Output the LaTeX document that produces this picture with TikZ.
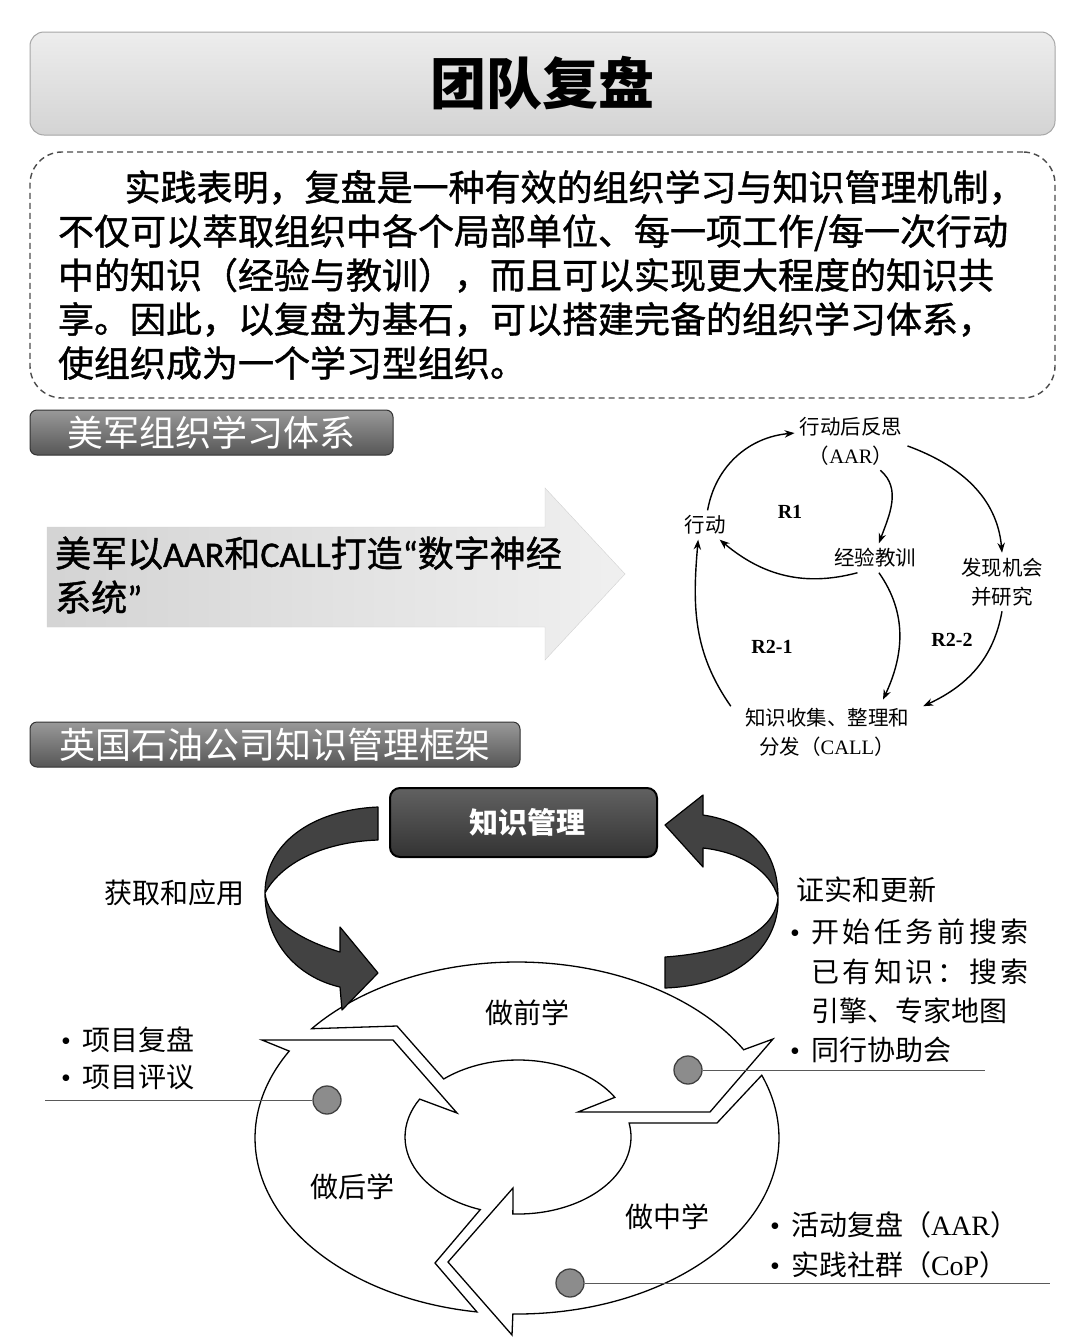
\documentclass[tikz,border=0pt]{standalone}
\usepackage{fontspec}
\setmainfont{Noto Sans CJK SC}
\newfontfamily\cjkheavy{Noto Sans CJK SC}[FakeBold=1.2]
\newfontfamily\cjkwide{Noto Sans CJK SC}[LetterSpace=13]
\newfontfamily\latinsans{Carlito}[FakeBold=1.2]
\newfontfamily\latinserif{Liberation Serif}
\usetikzlibrary{arrows.meta,positioning,calc}
\newcommand{\bul}{{\latinserif •}\hspace{11pt}}
\newcommand{\bulskip}{\phantom{\bul}}
\tikzset{
  titlebox/.style={
    rounded corners=14pt,
    draw=black!35,
    line width=1pt,
    top color=black!7,
    bottom color=black!17,
    minimum width=1025pt,
    minimum height=103pt,
    font=\fontsize{56}{60}\selectfont\bfseries
  },
  notebox/.style={
    rounded corners=32pt,
    draw=black!70,
    line width=1.4pt,
    dash pattern=on 6pt off 4pt,
    minimum width=1025pt,
    minimum height=246pt,
    inner sep=0pt,
    text width=969pt,
    align=left,
    font=\fontsize{36}{44}\selectfont\cjkheavy
  },
  tabbox/.style={
    rounded corners=7pt,
    draw=black!80,
    line width=1pt,
    top color=black!40,
    bottom color=black!66,
    minimum height=45pt,
    text=white,
    font=\fontsize{36}{40}\selectfont
  },
  kmbox/.style={
    rounded corners=10pt,
    draw=black,
    line width=2pt,
    top color=black!62,
    bottom color=black!80,
    minimum width=267pt,
    minimum height=69pt,
    text=white,
    font=\fontsize{29}{32}\selectfont\bfseries
  },
  loopnode/.style={
    inner sep=5pt,
    align=center,
    font=\fontsize{20.5}{29}\selectfont
  },
  looplabel/.style={
    inner sep=2pt,
    font=\fontsize{20}{24}\selectfont\latinserif\bfseries
  },
  flow/.style={
    -{Stealth[length=10pt,width=7.5pt]},
    line width=1.4pt
  },
  ringarrow/.style={
    fill=white,
    draw=black,
    line width=1.3pt,
    line join=miter
  },
  bendarrow/.style={
    fill=black!74,
    draw=black,
    line width=1.2pt,
    line join=round
  },
  spot/.style={
    circle,
    minimum size=28pt,
    inner sep=0pt,
    fill=black!45,
    draw=black!75,
    line width=1.3pt
  },
  leader/.style={
    draw=black!65,
    line width=1pt
  },
  phase/.style={
    inner sep=0pt,
    font=\fontsize{28}{30}\selectfont
  },
  bullets/.style={
    inner sep=0pt,
    anchor=west,
    align=left
  }
}
\begin{document}
\begin{tikzpicture}[x=1pt, y=-1pt]
\useasboundingbox (0,0) rectangle (1080,1344);
\fill[white] (0,0) rectangle (1080,1344);

\node[titlebox] (title) at (542.5,83.5) {团队复盘};
\node[notebox] (note) at (542.5,275) {\hspace*{1.85em}实践表明，复盘是一种有效的组织学习与知识管理机制，\\
不仅可以萃取组织中各个局部单位、每一项工作/每一次行动\\
中的知识（经验与教训），而且可以实现更大程度的知识共\\
享。因此，以复盘为基石，可以搭建完备的组织学习体系，\\
使组织成为一个学习型组织。};

\node[tabbox, minimum width=363pt] (tabus) at (211.5,432.5) {美军组织学习体系};
\path[left color=black!17, right color=black!6, draw=black!18]
  (47,527) -- (545,527) -- (545,488) -- (625,574) -- (545,660) -- (545,627) -- (47,627) -- cycle;
\node[anchor=west, inner sep=0pt, align=left, font=\fontsize{36}{44}\selectfont\cjkheavy] (ustext) at (55,575)
  {美军以{\latinsans AAR}和{\latinsans CALL}打造{\latinsans “}数字神经\\系统{\latinsans ”}};

\node[loopnode] (aar) at (851,441) {行动后反思\\（{\latinserif AAR}）};
\node[loopnode] (act) at (705,525) {行动};
\node[loopnode] (lesson) at (875,558) {经验教训};
\node[loopnode] (opp) at (1002,582) {发现机会\\并研究};
\node[loopnode, inner xsep=14pt, inner ysep=8pt] (call) at (827,732) {知识收集、整理和\\分发（{\latinserif CALL}）};
\node[looplabel] (rone) at (790,512) {R1};
\node[looplabel] (rtwoa) at (772,647) {R2-1};
\node[looplabel] (rtwob) at (952,640) {R2-2};
\draw[flow] (act.80) to[out=80, in=185] (aar.172);
\draw[flow] (aar.-5) to[out=-20, in=95] (opp.north);
\draw[flow] (aar.-45) to[out=-40, in=70] (lesson.75);
\draw[flow] (lesson.-140) to[out=195, in=-40] (act.-45);
\draw[flow] (lesson.-75) to[out=-55, in=65] (call.30);
\draw[flow] (opp.south) to[out=-100, in=25] (call.15);
\draw[flow] (call.165) to[out=125, in=-95] (act.-115);

\node[tabbox, minimum width=490pt] (tabbp) at (275,744.5) {英国石油公司知识管理框架};

\coordinate (oc) at (517,1138);
\coordinate (ic) at (518,1137);
\draw[ringarrow] ($(oc)+(-141.6:262 and 176)$)
  arc[start angle=-141.6, end angle=-30.1, x radius=262, y radius=176]
  -- (773,1039) -- (710,1112) -- (578,1112) -- ($(ic)+(-31:113 and 77)$)
  arc[start angle=-31, end angle=-131.1, x radius=113, y radius=77]
  -- (397,1026) -- cycle;
\draw[ringarrow] ($(oc)+(-20.9:262 and 176)$)
  arc[start angle=-20.9, end angle=90.9, x radius=262, y radius=176]
  -- (512,1335) -- (448,1262) -- (513,1188) -- ($(ic)+(92.6:113 and 77)$)
  arc[start angle=92.6, end angle=-10.5, x radius=113, y radius=77]
  -- (717,1123) -- cycle;
\draw[ringarrow] ($(oc)+(98.8:262 and 176)$)
  arc[start angle=98.8, end angle=209.6, x radius=262, y radius=176]
  -- (262,1040) -- (393,1040) -- (457,1113) -- ($(ic)+(209.5:113 and 77)$)
  arc[start angle=209.5, end angle=109.5, x radius=113, y radius=77]
  -- (435,1263) -- cycle;

\node[kmbox] (km) at (523.5,822.5) {\hspace*{8pt}知识管理};
\draw[bendarrow] (378,807) .. controls (310,810) and (265,845) .. (265,893)
  .. controls (265,945) and (300,978) .. (340,987)
  -- (342,1010) -- (378,973) -- (340,927) -- (340,952)
  .. controls (300,940) and (268,920) .. (265,893)
  .. controls (280,865) and (320,842) .. (378,840) -- cycle;
\draw[bendarrow] (665,957) .. controls (735,952) and (776,930) .. (778,897)
  .. controls (770,870) and (740,852) .. (703,848)
  -- (703,867) -- (665,825) -- (703,795) -- (703,815)
  .. controls (750,822) and (778,850) .. (778,897)
  .. controls (780,940) and (745,985) .. (665,988) -- cycle;

\node[phase] (before) at (527,1013) {做前学};
\node[phase] (after) at (352,1187) {做后学};
\node[phase] (during) at (667,1217) {做中学};
\node[phase, anchor=west] (apply) at (104,893) {获取和应用};
\node[phase, anchor=west] (verify) at (796,890) {证实和更新};

\node[spot] (spotafter) at (327,1100) {};
\node[spot] (spotbefore) at (688,1070) {};
\node[spot] (spotduring) at (570,1283) {};
\coordinate (leadafter) at (45,1100);
\coordinate (leadbefore) at (985,1070);
\coordinate (leadduring) at (1050,1283);
\draw[leader] (spotafter) -- (leadafter);
\draw[leader] (spotbefore) -- (leadbefore);
\draw[leader] (spotduring) -- (leadduring);

\node[bullets, font=\fontsize{28}{37}\selectfont] (afterlist) at (61,1058.5)
  {\bul 项目复盘\\\bul 项目评议};
\node[bullets, font=\fontsize{28}{39.3}\selectfont] (beforelist) at (790,991)
  {\bul{\cjkwide 开始任务前搜索}\\\bulskip{\cjkwide 已有知识：搜索}\\\bulskip 引擎、专家地图\\\bul 同行协助会};
\node[bullets, font=\fontsize{28}{40}\selectfont] (duringlist) at (770,1245)
  {\bul 活动复盘（{\latinserif AAR}）\\\bul 实践社群（{\latinserif CoP}）};
\end{tikzpicture}
\end{document}
